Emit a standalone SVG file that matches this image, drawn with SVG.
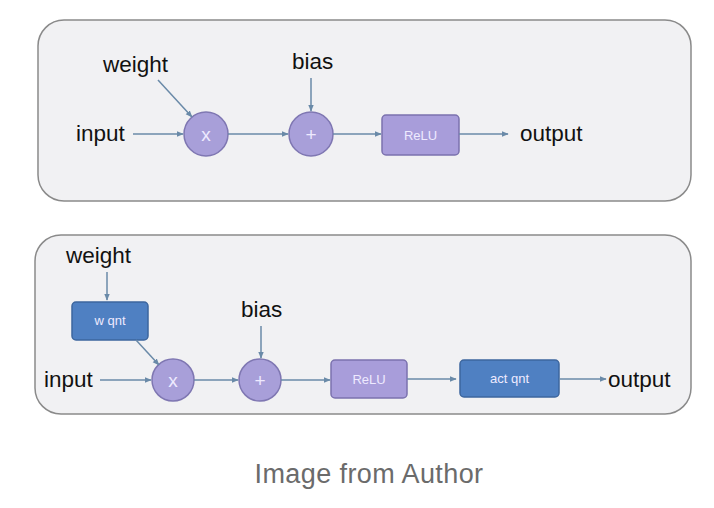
<svg xmlns="http://www.w3.org/2000/svg" width="714" height="508" viewBox="0 0 714 508">
<defs>
<marker id="ah" viewBox="0 0 10 10" refX="9" refY="5" markerWidth="7" markerHeight="7" orient="auto" markerUnits="userSpaceOnUse">
<path d="M0,1 L10,5 L0,9 z" fill="#6a8aa8"/>
</marker>
</defs>
<style>
.panel{fill:#f1f1f3;stroke:#8a8a8a;stroke-width:1.5}
.op{fill:#a89fd9;stroke:#7f77b2;stroke-width:1.5}
.relu{fill:#a89dda;stroke:#7b72ae;stroke-width:1.5}
.qnt{fill:#4f80c2;stroke:#3d669e;stroke-width:1.5}
.lbl{font-family:"Liberation Sans",Arial,sans-serif;font-size:22.5px;fill:#111}
.in{font-family:"Liberation Sans",Arial,sans-serif;font-size:13px;fill:#eeeaff;text-anchor:middle}
.sym{font-family:"Liberation Sans",Arial,sans-serif;font-size:19px;fill:#eeeaff;text-anchor:middle}
.cap{font-family:"Liberation Sans",Arial,sans-serif;font-size:27px;letter-spacing:0.4px;fill:#6b6b6b;text-anchor:middle}
.c line{stroke:#6a8aa8;stroke-width:1.5;marker-end:url(#ah)}
</style>
<rect width="714" height="508" fill="#ffffff"/>
<rect class="panel" x="38" y="20" width="653" height="181" rx="26"/>
<rect class="panel" x="35" y="235" width="656" height="179" rx="26"/>

<g id="top-weight"><text class="lbl" x="103" y="72">weight</text></g>
<g id="top-bias"><text class="lbl" x="292" y="69">bias</text></g>
<g id="top-input"><text class="lbl" x="76" y="141">input</text></g>
<g id="top-mul"><circle class="op" cx="206" cy="134" r="22"/><text class="sym" x="206" y="141">x</text></g>
<g id="top-add"><circle class="op" cx="311" cy="134" r="22"/><text class="sym" x="311" y="141">+</text></g>
<g id="top-relu"><rect class="relu" x="382" y="115" width="77" height="40" rx="4"/><text class="in" x="420.5" y="140">ReLU</text></g>
<g id="top-output"><text class="lbl" x="520" y="141">output</text></g>

<g id="bot-weight"><text class="lbl" x="66" y="263">weight</text></g>
<g id="bot-wqnt"><rect class="qnt" x="72" y="302" width="76" height="38" rx="4"/><text class="in" x="110" y="325">w qnt</text></g>
<g id="bot-bias"><text class="lbl" x="241" y="317">bias</text></g>
<g id="bot-input"><text class="lbl" x="44" y="387">input</text></g>
<g id="bot-mul"><circle class="op" cx="173" cy="380" r="21"/><text class="sym" x="173" y="387">x</text></g>
<g id="bot-add"><circle class="op" cx="260" cy="380" r="21"/><text class="sym" x="260" y="387">+</text></g>
<g id="bot-relu"><rect class="relu" x="331" y="360" width="76" height="38" rx="4"/><text class="in" x="369" y="384">ReLU</text></g>
<g id="bot-actqnt"><rect class="qnt" x="460" y="360" width="99" height="37" rx="4"/><text class="in" x="509.5" y="383">act qnt</text></g>
<g id="bot-output"><text class="lbl" x="608" y="387">output</text></g>

<g id="connectors" class="c">
<line x1="133" y1="134" x2="183" y2="134"/>
<line x1="158" y1="80" x2="192" y2="117"/>
<line x1="228" y1="134" x2="288" y2="134"/>
<line x1="311" y1="78" x2="311" y2="111"/>
<line x1="333" y1="134" x2="381" y2="134"/>
<line x1="459" y1="134" x2="508" y2="134"/>

<line x1="107" y1="272" x2="107" y2="300"/>
<line x1="136" y1="340" x2="159" y2="365"/>
<line x1="100" y1="380" x2="151" y2="380"/>
<line x1="194" y1="380" x2="238" y2="380"/>
<line x1="261" y1="326" x2="261" y2="358"/>
<line x1="281" y1="380" x2="330" y2="380"/>
<line x1="407" y1="379" x2="456" y2="379"/>
<line x1="559" y1="379" x2="606" y2="379"/>
</g>

<text class="cap" x="369" y="483">Image from Author</text>
</svg>
